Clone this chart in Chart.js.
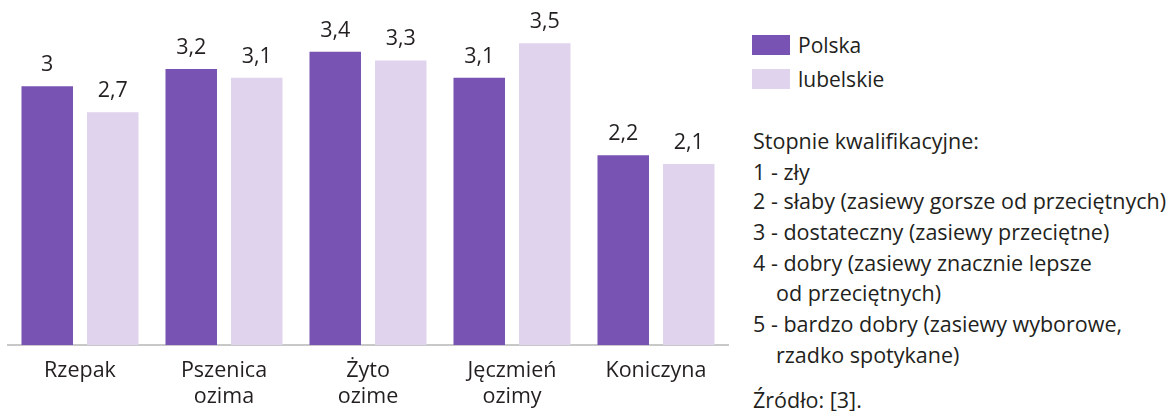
<!DOCTYPE html>
<html>
<head>
<meta charset="utf-8">
<script src="https://cdn.jsdelivr.net/npm/chart.js@4"></script>
<style>
  html, body { margin: 0; padding: 0; background: #fff; }
  #wrap { position: relative; width: 1170px; height: 411px; overflow: hidden;
          font-family: "Open Sans", "Noto Sans", sans-serif; color: #231f20; }
  #chartBox { position: absolute; left: 0; top: 0; width: 732px; height: 411px; }
  .lg { position: absolute; left: 752px; width: 38px; height: 20px; }
  .lgt { position: absolute; left: 798px; font-size: 21px; line-height: 24px; white-space: nowrap; }
  .note { position: absolute; left: 753px; font-size: 21.5px; line-height: 24px; white-space: nowrap; }
  .ind { left: 776px; }
</style>
</head>
<body>
<div id="wrap">
  <div id="chartBox"><canvas id="c" width="732" height="411"></canvas></div>
  <div class="lg" style="top:35px;background:#7953b3"></div>
  <div class="lgt" style="top:33px">Polska</div>
  <div class="lg" style="top:69px;background:#e0d3ed"></div>
  <div class="lgt" style="top:67px">lubelskie</div>

  <div class="note" style="top:129px">Stopnie kwalifikacyjne:</div>
  <div class="note" style="top:160px">1 - zły</div>
  <div class="note" style="top:189px">2 - słaby (zasiewy gorsze od przeciętnych)</div>
  <div class="note" style="top:220px">3 - dostateczny (zasiewy przeciętne)</div>
  <div class="note" style="top:251px">4 - dobry (zasiewy znacznie lepsze</div>
  <div class="note ind" style="top:281px">od przeciętnych)</div>
  <div class="note" style="top:312px">5 - bardzo dobry (zasiewy wyborowe,</div>
  <div class="note ind" style="top:343px">rzadko spotykane)</div>
  <div class="note" style="top:388px">Źródło: [3].</div>
</div>
<script>
const categories = [
  ["Rzepak"],
  ["Pszenica", "ozima"],
  ["Żyto", "ozime"],
  ["Jęczmień", "ozimy"],
  ["Koniczyna"]
];
const seriesNames = ["Polska", "lubelskie"];
const polskaValues = [3.0, 3.2, 3.4, 3.1, 2.2];
const lubelskieValues = [2.7, 3.1, 3.3, 3.5, 2.1];
const seriesColors = ["#7953b3", "#e0d3ed"];

const valueLabels = {
  id: "valueLabels",
  afterDatasetsDraw(chart) {
    const ctx = chart.ctx;
    ctx.save();
    ctx.font = "21.5px 'Open Sans', 'Noto Sans', sans-serif";
    ctx.fillStyle = "#231f20";
    ctx.textAlign = "center";
    ctx.textBaseline = "alphabetic";
    chart.data.datasets.forEach((ds, i) => {
      const meta = chart.getDatasetMeta(i);
      meta.data.forEach((el, j) => {
        const txt = String(ds.data[j]).replace(".", ",");
        ctx.fillText(txt, el.x, el.y - 15);
      });
    });
    ctx.restore();
  }
};

new Chart(document.getElementById("c"), {
  type: "bar",
  data: {
    labels: categories,
    datasets: [
      { label: seriesNames[0], data: polskaValues, backgroundColor: seriesColors[0] },
      { label: seriesNames[1], data: lubelskieValues, backgroundColor: seriesColors[1] }
    ]
  },
  options: {
    responsive: false,
    animation: false,
    devicePixelRatio: 1,
    layout: { padding: { left: 8, right: 4, top: 0, bottom: 0 } },
    datasets: { bar: { categoryPercentage: 0.91, barPercentage: 0.786 } },
    plugins: { legend: { display: false }, tooltip: { enabled: false } },
    scales: {
      y: { display: false, min: 0, max: 4 },
      x: {
        grid: { display: false, drawTicks: false },
        border: { display: true, color: "#c8c8c8", width: 2 },
        ticks: {
          color: "#231f20",
          padding: 12,
          font: { family: "'Open Sans', 'Noto Sans', sans-serif", size: 21.5, lineHeight: 1.25 },
          maxRotation: 0, autoSkip: false
        },
        afterFit(scale) { scale.height = 66; }
      }
    }
  },
  plugins: [valueLabels]
});
</script>
</body>
</html>
